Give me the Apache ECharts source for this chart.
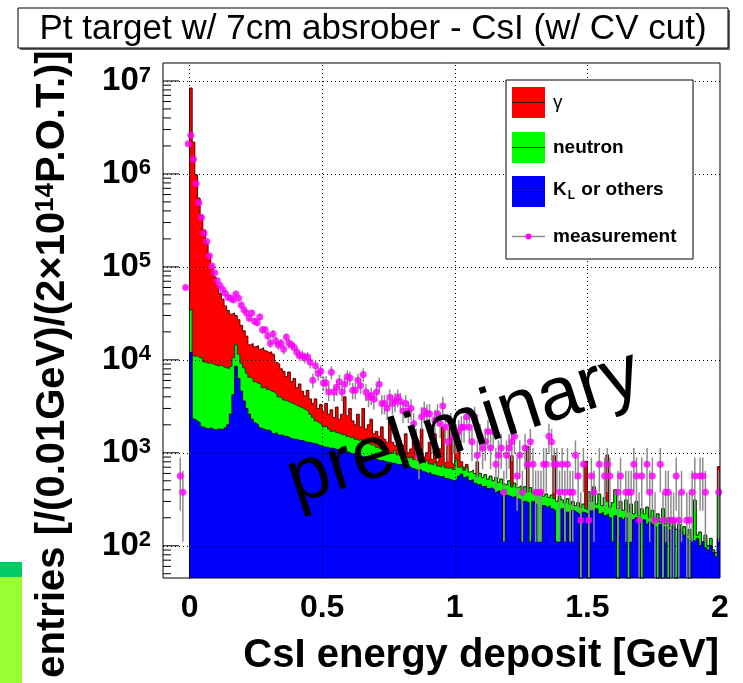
<!DOCTYPE html>
<html>
<head>
<meta charset="utf-8">
<script src="https://cdn.jsdelivr.net/npm/echarts@6/dist/echarts.min.js"></script>
<style>
  html, body { margin: 0; padding: 0; background: #ffffff; }
  #chart { width: 743px; height: 683px; }
</style>
</head>
<body>
<div id="chart"></div>
<script>
// ---- binning (0.01 GeV per bin) ----
const binWidth = 0.01;
const histStart = 0.0;      // first MC bin lower edge [GeV]
const measStart = -0.04;    // first measured bin lower edge [GeV]
const countScale = 188;     // entries per measured count, normalised to 2e14 P.O.T.

// ---- THStack levels, as drawn: (gamma + neutron + KL), (neutron + KL), (KL) ----
const gammaStack = [
  8.4e6, 2.2e6, 9.8e5, 5.5e5, 3.6e5, 2.5e5, 1.8e5, 1.35e5, 1.02e5, 7.8e4,
  6.3e4, 5.2e4, 4.5e4, 3.8e4, 3.4e4, 3.1e4, 3.2e4, 3.0e4, 2.7e4, 2.35e4,
  2.05e4, 1.8e4, 1.45e4, 1.5e4, 1.38e4, 1.42e4, 1.3e4, 1.35e4, 1.25e4, 1.2e4,
  1.22e4, 1.15e4, 9.4e3, 9.0e3, 8.0e3, 7.5e3, 6.6e3, 7.4e3, 5.8e3, 6.3e3,
  5.0e3, 5.5e3, 4.6e3, 4.1e3, 4.7e3, 3.8e3, 3.4e3, 3.8e3, 3.0e3, 3.3e3,
  2.8e3, 3.4e3, 2.6e3, 2.9e3, 2.4e3, 3.1e3, 2.3e3, 2.6e3, 4.0e3, 2.5e3,
  3.0e3, 2.2e3, 2.0e3, 2.6e3, 1.9e3, 3.0e3, 1.8e3, 2.0e3, 2.3e3, 1.6e3,
  1.7e3, 1.5e3, 1.9e3, 1.4e3, 1.3e3, 2.4e3, 1.3e3, 1.2e3, 1.5e3, 1.1e3,
  1.2e3, 1.6e3, 1.0e3, 1.1e3, 1.4e3, 950, 1.0e3, 1.8e3, 900, 1.0e3,
  1.3e3, 850, 1.6e3, 800, 1.1e3, 1.9e3, 780, 1.2e3, 2.2e3, 760,
  1.6e3, 1.2e3, 800, 700, 750, 620, 650, 600, 800, 600,
  540, 580, 520, 560, 500, 540, 480, 520, 460, 450,
  500, 930, 470, 420, 440, 400, 430, 1170, 420, 370,
  390, 350, 380, 340, 360, 330, 350, 930, 300, 340,
  310, 290, 320, 280, 300, 270, 290, 260, 280, 810,
  380, 300, 430, 280, 360, 270, 330, 950, 260, 290,
  400, 250, 300, 240, 310, 230, 280, 220, 300, 210,
  250, 220, 260, 200, 240, 190, 220, 180, 250, 170,
  200, 160, 190, 150, 170, 140, 160, 130, 150, 120,
  310, 130, 140, 110, 130, 100, 120, 90, 84, 710
];
const neutronStack = [
  3.45e4, 1.1e4, 1.1e4, 1.05e4, 1.05e4, 9.5e3, 9.2e3, 9.3e3, 9.0e3, 8.8e3,
  8.6e3, 8.8e3, 8.4e3, 8.2e3, 8.0e3, 8.5e3, 1.05e4, 1.45e4, 1.15e4, 9.2e3,
  8.2e3, 7.2e3, 6.5e3, 6.2e3, 5.8e3, 5.6e3, 5.5e3, 5.0e3, 5.1e3, 4.8e3,
  4.6e3, 4.5e3, 4.3e3, 4.0e3, 3.9e3, 3.7e3, 3.6e3, 3.5e3, 3.4e3, 3.3e3,
  3.2e3, 3.1e3, 3.0e3, 2.9e3, 2.8e3, 2.6e3, 2.4e3, 2.2e3, 2.1e3, 2.0e3,
  1.9e3, 1.95e3, 1.8e3, 1.7e3, 1.75e3, 1.65e3, 1.6e3, 1.55e3, 1.6e3, 1.5e3,
  1.45e3, 1.5e3, 1.4e3, 1.35e3, 1.4e3, 1.3e3, 1.35e3, 1.25e3, 1.2e3, 1.25e3,
  1.15e3, 1.1e3, 1.15e3, 1.05e3, 1.1e3, 1.0e3, 980, 1.05e3, 950, 920,
  980, 900, 880, 920, 850, 820, 860, 800, 780, 820,
  760, 740, 780, 720, 700, 740, 690, 680, 700, 660,
  840, 700, 720, 650, 700, 620, 650, 600, 560, 600,
  540, 580, 520, 560, 500, 540, 480, 520, 460, 450,
  500, 430, 470, 420, 440, 400, 430, 380, 420, 370,
  390, 350, 380, 340, 360, 330, 350, 320, 300, 340,
  310, 290, 320, 280, 300, 270, 290, 260, 280, 250,
  380, 300, 430, 280, 360, 270, 330, 300, 260, 290,
  400, 250, 300, 240, 310, 230, 280, 220, 300, 210,
  250, 220, 260, 200, 240, 190, 220, 180, 250, 170,
  200, 160, 190, 150, 170, 140, 160, 130, 150, 120,
  310, 130, 140, 110, 130, 100, 120, 90, 84, 370
];
const klHist = [
  1.2e4, 2.3e3, 2.2e3, 2.1e3, 1.9e3, 1.85e3, 1.8e3, 1.85e3, 1.8e3, 1.75e3,
  1.8e3, 1.8e3, 1.75e3, 1.85e3, 2.0e3, 2.6e3, 4.2e3, 8.5e3, 6.3e3, 4.6e3,
  3.6e3, 3.0e3, 2.6e3, 2.3e3, 2.1e3, 2.0e3, 1.85e3, 1.8e3, 1.75e3, 1.75e3,
  1.7e3, 1.6e3, 1.65e3, 1.55e3, 1.55e3, 1.5e3, 1.5e3, 1.45e3, 1.4e3, 1.4e3,
  1.38e3, 1.35e3, 1.35e3, 1.3e3, 1.3e3, 1.28e3, 1.25e3, 1.25e3, 1.2e3, 1.18e3,
  1.15e3, 1.15e3, 1.12e3, 1.12e3, 1.1e3, 1.08e3, 1.08e3, 1.05e3, 1.0e3, 1.02e3,
  980, 970, 950, 960, 920, 900, 910, 880, 860, 870,
  840, 820, 830, 800, 790, 780, 770, 760, 740, 750,
  720, 700, 710, 680, 670, 650, 660, 630, 620, 600,
  610, 580, 570, 560, 550, 560, 530, 520, 510, 500,
  520, 560, 590, 540, 560, 500, 520, 470, 450, 460,
  430, 440, 410, 420, 400, 380, 390, 360, 110, 350,
  340, 330, 340, 320, 310, 110, 300, 290, 110, 300,
  280, 110, 110, 270, 260, 270, 250, 240, 110, 110,
  250, 110, 230, 110, 240, 230, 220, 1, 230, 220,
  1, 240, 230, 250, 220, 230, 210, 220, 200, 110,
  210, 1, 200, 190, 200, 1, 110, 190, 200, 180,
  1, 190, 170, 180, 170, 160, 1, 170, 1, 160,
  1, 150, 160, 1, 150, 140, 130, 120, 1, 115,
  110, 120, 100, 110, 95, 90, 100, 85, 76, 120
];

// ---- measured counts per bin, starting at measStart ----
const measCounts = [
  3, 2, 320, 11200,
  13830, 7660, 4200, 2606, 1808, 1223, 995, 702, 543, 460,
  378, 335, 303, 277, 250, 245, 234, 271, 245, 207,
  184, 170, 149, 170, 138, 133, 154, 112, 112, 96,
  80, 101, 85, 77, 80, 69, 93, 80, 77, 72,
  64, 59, 59, 56, 57, 50, 32, 46, 38, 40,
  30, 30, 24, 39, 24, 27, 31, 24, 29, 35,
  34, 25, 25, 32, 28, 37, 24, 21, 22, 20,
  24, 29, 18, 18, 16, 21, 18, 19, 21, 19,
  15, 18, 15, 16, 11, 7, 5, 13, 15, 14,
  14, 8, 12, 14, 11, 17, 10, 7, 11, 8,
  8, 9, 10, 10, 13, 10, 7, 13, 5, 8,
  6, 7, 9, 6, 9, 4, 5, 6, 2, 5,
  6, 7, 8, 3, 5, 2, 6, 4, 7, 4,
  2, 2, 2, 4, 4, 8, 7, 4, 4, 2,
  4, 2, 4, 2, 2, 5, 3, 1, 4, 0,
  1, 3, 2, 0, 4, 0, 3, 4, 3, 0,
  0, 2, 3, 0, 2, 2, 2, 4, 3, 1,
  3, 0, 4, 2, 3, 1, 0, 4, 1, 2,
  2, 1, 1, 3, 1, 2, 0, 1, 1, 2,
  3, 0, 3, 3, 2, 0, 0, 0, 0, 2
];

// ---- axes ----
const xMin = -0.1, xMax = 2.0;
const yMin = 45, yMax = 1.56e7;
const xTickLabels = [0, 0.5, 1, 1.5, 2];
const yDecades = [2, 3, 4, 5, 6, 7];

const FONT = '"Liberation Sans", Arial, Helvetica, sans-serif';

// histogram outline as a step path over bin edges, closed down to the axis at the left end
function histPath(values, start) {
  const pts = [[start, 1]];
  values.forEach((v, i) => pts.push([start + i * binWidth, v]));
  pts.push([start + values.length * binWidth, values[values.length - 1]]);
  return pts;
}

function histSeries(name, values, fill, edge, z) {
  return {
    name, type: 'line', step: 'end', data: histPath(values, histStart),
    symbol: 'none', clip: true, silent: true, z,
    lineStyle: { color: edge, width: 1 },
    areaStyle: { color: fill, opacity: 1, origin: 'start' }
  };
}

// measured points and their statistical errors
const measPoints = [];
measCounts.forEach((n, i) => {
  if (n > 0) {
    const xc = measStart + (i + 0.5) * binWidth;
    measPoints.push([xc, n * countScale, Math.sqrt(n) * countScale]);
  }
});

// y-axis tick marks (decades + 2..9 subdivisions)
const yTickMarks = [];
for (let e = 1; e <= 7; e++) {
  for (let m = 1; m <= 9; m++) {
    const v = m * Math.pow(10, e);
    if (v >= yMin && v <= yMax) yTickMarks.push([xMin, v, m === 1 ? 1 : 0]);
  }
}

const chart = echarts.init(document.getElementById('chart'), null, { renderer: 'canvas' });

const gridBox = { left: 163, top: 63, right: 23, bottom: 105 };
const frameW = 743 - gridBox.left - gridBox.right;
const frameH = 683 - gridBox.top - gridBox.bottom;

const option = {
  animation: false,
  backgroundColor: '#ffffff',
  grid: { left: gridBox.left, top: gridBox.top, right: gridBox.right, bottom: gridBox.bottom,
          show: true, backgroundColor: '#ffffff', borderWidth: 0 },
  xAxis: {
    type: 'value', min: xMin, max: xMax, interval: 0.1,
    axisLine: { show: false }, axisTick: { show: false }, splitLine: { show: false },
    axisLabel: {
      margin: 14, color: '#000', fontFamily: FONT, fontWeight: 'bold', fontSize: 32,
      formatter: v => {
        const r = Math.round(v * 10) / 10;
        return xTickLabels.some(t => Math.abs(t - r) < 1e-9) && Math.abs(v - r) < 1e-6 ? String(r) : '';
      }
    }
  },
  yAxis: {
    type: 'log', logBase: 10, min: yMin, max: yMax,
    axisLine: { show: false }, axisTick: { show: false }, splitLine: { show: false },
    axisLabel: {
      margin: 12, color: '#000',
      formatter: v => {
        const e = Math.log10(v), r = Math.round(e);
        return Math.abs(e - r) < 1e-6 && yDecades.includes(r) ? '{b|10}{s|' + r + '}' : '';
      },
      rich: {
        b: { fontFamily: FONT, fontWeight: 'bold', fontSize: 33, color: '#000', verticalAlign: 'bottom' },
        s: { fontFamily: FONT, fontWeight: 'bold', fontSize: 22, color: '#000', verticalAlign: 'top' }
      }
    }
  },
  series: [
    { // dotted grid
      type: 'line', data: [], silent: true, z: 1,
      markLine: {
        silent: true, symbol: 'none', label: { show: false }, animation: false,
        lineStyle: { color: '#000', type: [1, 3], width: 1 },
        data: [
          ...xTickLabels.filter(v => v > xMin && v < xMax).map(v => ({ xAxis: v })),
          ...yDecades.map(e => ({ yAxis: Math.pow(10, e) }))
        ]
      }
    },
    {
      type: 'custom', silent: true, z: 1, data: yTickMarks, encode: { x: 0, y: 1 },
      renderItem: (params, api) => {
        const p = api.coord([api.value(0), api.value(1)]);
        const len = api.value(2) ? 16 : 8;
        return { type: 'line', shape: { x1: p[0], y1: p[1], x2: p[0] + len, y2: p[1] },
                 style: { stroke: '#000', lineWidth: 1 } };
      }
    },
    histSeries('γ', gammaStack, '#ff0000', '#500000', 2),
    histSeries('neutron', neutronStack, '#00ff00', '#004000', 3),
    histSeries('KL or others', klHist, '#0000ff', '#000040', 4),
    { // error bars
      type: 'custom', silent: true, z: 5, data: measPoints, encode: { x: 0, y: 1 },
      renderItem: (params, api) => {
        const x = api.value(0), v = api.value(1), e = api.value(2);
        const top = api.coord([x, Math.min(v + e, yMax)]);
        const bot = api.coord([x, Math.max(v - e, yMin)]);
        return { type: 'line', shape: { x1: top[0], y1: top[1], x2: bot[0], y2: bot[1] },
                 style: { stroke: '#8c8c8c', lineWidth: 1.5 } };
      }
    },
    {
      name: 'measurement', type: 'scatter', silent: true, z: 6,
      data: measPoints.map(p => [p[0], p[1]]),
      symbol: 'circle', symbolSize: 7, itemStyle: { color: '#ff00ff' }
    }
  ],
  graphic: [
    // slide decoration at the lower left
    { type: 'rect', shape: { x: 0, y: 562, width: 22, height: 15 }, style: { fill: '#00cc66' }, z: 0 },
    { type: 'rect', shape: { x: 0, y: 577, width: 22, height: 106 }, style: { fill: '#99ff33' }, z: 0 },
    // frame
    { type: 'rect', z: 50, shape: { x: gridBox.left, y: gridBox.top, width: frameW, height: frameH },
      style: { fill: null, stroke: '#000', lineWidth: 1 } },
    // title box
    { type: 'rect', z: 50, shape: { x: 20, y: 10, width: 710, height: 40 }, style: { fill: '#666' } },
    { type: 'rect', z: 51, shape: { x: 18, y: 8, width: 710, height: 40 },
      style: { fill: '#fff', stroke: '#000', lineWidth: 1 } },
    { type: 'text', z: 52, x: 373, y: 29,
      style: { text: 'Pt target w/ 7cm absrober - CsI (w/ CV cut)', fontFamily: FONT, fontSize: 35,
               fill: '#000', align: 'center', verticalAlign: 'middle' } },
    // legend
    { type: 'rect', z: 60, shape: { x: 506, y: 80, width: 187, height: 179 },
      style: { fill: '#fff', stroke: '#000', lineWidth: 1 } },
    { type: 'rect', z: 61, shape: { x: 512, y: 87, width: 33, height: 31 }, style: { fill: '#ff0000' } },
    { type: 'line', z: 62, shape: { x1: 512, y1: 102.5, x2: 545, y2: 102.5 }, style: { stroke: '#500000', lineWidth: 1 } },
    { type: 'rect', z: 61, shape: { x: 512, y: 132, width: 33, height: 31 }, style: { fill: '#00ff00' } },
    { type: 'line', z: 62, shape: { x1: 512, y1: 147.5, x2: 545, y2: 147.5 }, style: { stroke: '#004000', lineWidth: 1 } },
    { type: 'rect', z: 61, shape: { x: 512, y: 176, width: 33, height: 31 }, style: { fill: '#0000ff' } },
    { type: 'line', z: 62, shape: { x1: 512, y1: 191.5, x2: 545, y2: 191.5 }, style: { stroke: '#000040', lineWidth: 1 } },
    { type: 'line', z: 62, shape: { x1: 512, y1: 236.5, x2: 545, y2: 236.5 }, style: { stroke: '#8c8c8c', lineWidth: 1.5 } },
    { type: 'circle', z: 63, shape: { cx: 528.5, cy: 236.5, r: 3 }, style: { fill: '#ff00ff' } },
    { type: 'text', z: 62, x: 553, y: 103, style: { text: 'γ', fontFamily: FONT, fontSize: 19, fill: '#000', verticalAlign: 'middle' } },
    { type: 'text', z: 62, x: 553, y: 148, style: { text: 'neutron', fontFamily: FONT, fontWeight: 'bold', fontSize: 19, fill: '#000', verticalAlign: 'middle' } },
    { type: 'text', z: 62, x: 553, y: 191, style: {
        text: '{k|K}{l|L}{k| or others}', verticalAlign: 'middle',
        rich: { k: { fontFamily: FONT, fontWeight: 'bold', fontSize: 19, fill: '#000', verticalAlign: 'top' },
                l: { fontFamily: FONT, fontWeight: 'bold', fontSize: 12, fill: '#000', verticalAlign: 'bottom', padding: [10, 1, 0, 1] } } } },
    { type: 'text', z: 62, x: 553, y: 237, style: { text: 'measurement', fontFamily: FONT, fontWeight: 'bold', fontSize: 19, fill: '#000', verticalAlign: 'middle' } },
    // axis titles
    { type: 'text', z: 40, x: 719, y: 656,
      style: { text: 'CsI energy deposit [GeV]', fontFamily: FONT, fontWeight: 'bold', fontSize: 40,
               fill: '#000', align: 'right', verticalAlign: 'middle' } },
    { type: 'text', z: 40, x: 53, y: 364, rotation: Math.PI / 2,
      style: { text: '{t|entries [/(0.01GeV)/(2×10}{s|14}{t|P.O.T.)]}', align: 'center', verticalAlign: 'middle',
               rich: { t: { fontFamily: FONT, fontWeight: 'bold', fontSize: 40, fill: '#000', verticalAlign: 'bottom' },
                       s: { fontFamily: FONT, fontWeight: 'bold', fontSize: 26, fill: '#000', verticalAlign: 'top' } } } },
    // watermark
    { type: 'text', z: 70, x: 464, y: 428, rotation: 0.31,
      style: { text: 'preliminary', fontFamily: FONT, fontSize: 75, fill: '#000', align: 'center', verticalAlign: 'middle' } }
  ]
};

chart.setOption(option);
</script>
</body>
</html>
